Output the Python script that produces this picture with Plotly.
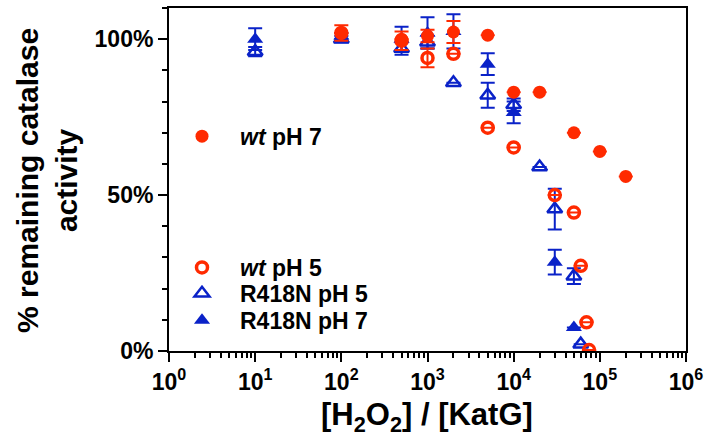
import plotly.graph_objects as go

# ---- data ----
wt7_x = [100, 500, 1000, 2000, 5000, 10000, 20000, 50000, 100000, 200000]
wt7_y = [102, 100, 101, 102.3, 101.3, 83, 83, 70, 64, 56]
wt7_e = [0, 0, 2, 3.5, 0, 0, 0, 0, 0, 0]

wt5_x = [100, 500, 1000, 2000, 5000, 10000, 30000, 50000, 60000, 70000, 75000]
wt5_y = [102, 99.5, 94, 95.3, 71.6, 65.3, 50, 44.4, 27.3, 9.2, 0.3]
wt5_e = [2.5, 3, 3, 0, 0, 0, 0, 0, 0, 0, 0]

r5_x = [10, 100, 500, 1000, 2000, 5000, 10000, 20000, 30000, 50000, 60000]
r5_y = [96, 100, 97, 99, 86, 82, 79, 59, 45.5, 24, 2.2]
r5_e = [1.5, 1, 2, 2, 0, 4, 2, 0, 6.5, 2.5, 0]

r7_x = [10, 100, 500, 1000, 2000, 5000, 10000, 30000, 50000]
r7_y = [100, 101, 100, 102, 102.5, 92, 76.5, 28.5, 7.5]
r7_e = [3.5, 1, 4, 5, 5.5, 3.5, 3.5, 4, 0]

x_tickvals = [1, 10, 100, 1000, 10000, 100000, 1000000]
x_ticktext = ["10<sup>0</sup>", "10<sup>1</sup>", "10<sup>2</sup>", "10<sup>3</sup>",
              "10<sup>4</sup>", "10<sup>5</sup>", "10<sup>6</sup>"]
y_tickvals = [0, 50, 100]
y_ticktext = ["0%", "50%", "100%"]

RED = "#ff2a00"
BLUE = "#0a22c8"

fig = go.Figure()

def eb(e, color):
    return dict(type="data", array=e, visible=True, color=color, thickness=2, width=7)

fig.add_trace(go.Scatter(
    x=r5_x, y=r5_y, mode="markers", name="<b>R418N pH 5</b>",
    marker=dict(symbol="triangle-up-open", size=13, color=BLUE, line=dict(width=2.5, color=BLUE)),
    error_y=eb(r5_e, BLUE), legend="legend3"))
fig.add_trace(go.Scatter(
    x=r7_x, y=r7_y, mode="markers", name="<b>R418N pH 7</b>",
    marker=dict(symbol="triangle-up", size=14, color=BLUE),
    error_y=eb(r7_e, BLUE), legend="legend4"))
fig.add_trace(go.Scatter(
    x=wt5_x, y=wt5_y, mode="markers", name="<b><i>wt</i> pH 5</b>",
    marker=dict(symbol="circle-open", size=11, color=RED, line=dict(width=3.5, color=RED)),
    error_y=eb(wt5_e, RED), legend="legend2"))
fig.add_trace(go.Scatter(
    x=wt7_x, y=wt7_y, mode="markers", name="<b><i>wt</i> pH 7</b>",
    marker=dict(symbol="circle", size=13, color=RED),
    error_y=eb(wt7_e, RED), legend="legend"))

L, R, T, B = 169, 23, 6, 93
W, H = 709, 444
pw, ph = W - L - R, H - T - B

def px2paper_x(px):
    return (px - L) / pw

def px2paper_y(py):
    return (H - B - py) / ph

leg_font = dict(family="Liberation Sans, Arial, sans-serif", size=23, color="black")

def leg(ypx):
    return dict(x=px2paper_x(164), xanchor="left", y=px2paper_y(ypx), yanchor="middle",
                font=leg_font, itemwidth=66, bgcolor="rgba(0,0,0,0)", borderwidth=0)

minor_vals = [m * 10 ** d for d in range(6) for m in range(2, 10)]

fig.update_layout(
    width=W, height=H,
    margin=dict(l=L, r=R, t=T, b=B),
    paper_bgcolor="white", plot_bgcolor="white",
    font=dict(family="Liberation Sans, Arial, sans-serif", color="black"),
    showlegend=True,
    legend=leg(135),
    legend2=leg(267),
    legend3=leg(293),
    legend4=leg(320),
    xaxis=dict(
        type="log", range=[0, 6],
        tickmode="array", tickvals=x_tickvals, ticktext=x_ticktext,
        ticks="outside", ticklen=9, tickwidth=2, tickcolor="black",
        showline=True, linewidth=2, linecolor="black", mirror=True,
        showgrid=False, zeroline=False,
        tickfont=dict(size=23, weight="bold", color="black"),
        minor=dict(tickmode="array", tickvals=minor_vals, ticks="outside",
                   ticklen=5, tickwidth=2, tickcolor="black", showgrid=False),
    ),
    yaxis=dict(
        range=[0, 110],
        tickmode="array", tickvals=y_tickvals, ticktext=y_ticktext,
        ticks="outside", ticklen=9, tickwidth=2, tickcolor="black",
        showline=True, linewidth=2, linecolor="black", mirror=True,
        showgrid=False, zeroline=False,
        tickfont=dict(size=23, weight="bold", color="black"),
        minor=dict(dtick=10, tick0=0, ticks="outside", ticklen=5, tickwidth=2,
                   tickcolor="black", showgrid=False),
    ),
    annotations=[
        dict(text="<b>% remaining catalase<br>activity</b>", textangle=-90,
             xref="paper", yref="paper", x=px2paper_x(47), y=px2paper_y(180),
             xanchor="center", yanchor="middle", showarrow=False,
             font=dict(size=30, color="black")),
        dict(text="<b>[H<sub>2</sub>O<sub>2</sub>] / [KatG]</b>",
             xref="paper", yref="paper", x=px2paper_x(427), y=px2paper_y(417),
             xanchor="center", yanchor="middle", showarrow=False,
             font=dict(size=31, color="black")),
    ],
)

fig.write_html("out.html")
